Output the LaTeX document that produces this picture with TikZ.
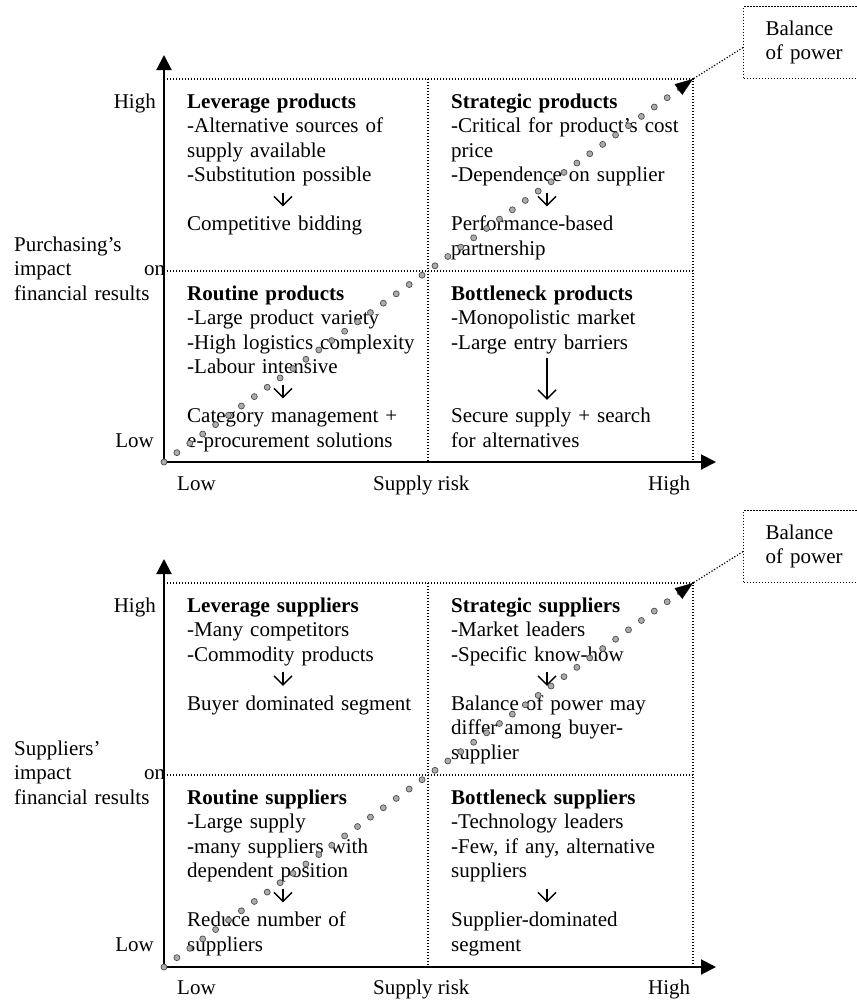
\documentclass[tikz,border=0pt]{standalone}
\usepackage{fontspec}
\setmainfont{Liberation Serif}
\usetikzlibrary{arrows.meta,calc}

\begin{document}
\begin{tikzpicture}[x=1pt,y=-1pt,
    font=\fontsize{21}{24.5}\selectfont,
    block/.style={anchor=base west, inner sep=0pt, text width=260pt, align=left},
    lbl/.style={inner sep=0pt},
    axisline/.style={line width=2pt, {Triangle[length=15pt,width=15pt]}-{Triangle[length=15pt,width=15pt]}},
    dotline/.style={line width=1.2pt, dash pattern=on 1.2pt off 1.8pt},
    powerdot/.style={fill=gray!65, draw=gray!60!black, line width=0.7pt},
    powertip/.style={-{Triangle[length=18pt,width=13pt]}},
    flowarrow/.style={line width=1.4pt, -{Straight Barb[length=9pt,width=18pt]}, shorten <=3.7pt, shorten >=6.8pt},
    bopbox/.style={draw, dotline, anchor=north west, minimum height=72pt, inner xsep=22pt, text width=110pt, align=left}]
\useasboundingbox (0,0) rectangle (857,1002);

% ---------- purchasing portfolio (top) ----------
\coordinate (o1) at (164,462);
\coordinate (ytop1) at (164,55);
\coordinate (xend1) at (716,462);
\coordinate (c1) at (693,79);

% Draw the quadrant lines
\draw[dotline] (164,79) -- (c1) -- (693,462);
\draw[dotline] (428,79) -- (428,462);
\draw[dotline] (164,271) -- (693,271);
% Draw the axes
\draw[axisline] (ytop1) -- (o1) -- (xend1);

% axis labels
\node at (14,251) [block, text width=151pt] (ylab1) {Purchasing’s\\impact\hfill on\\financial results};
\node at (156,108) [lbl, anchor=base east] (high1) {High};
\node at (154,447) [lbl, anchor=base east] (low1) {Low};
\node at (177,490) [lbl, anchor=base west] (xlow1) {Low};
\node at (373,490) [lbl, anchor=base west] (risk1) {Supply risk};
\node at (648,490) [lbl, anchor=base west] (xhigh1) {High};

% the four quadrants
\node at (187,108) [block] (levP) {\textbf{Leverage products}\\-Alternative sources of\\supply available\\-Substitution possible\strut};
\node at (187,230.5) [block] (levPres) {\strut Competitive bidding};
\draw[flowarrow] ([xshift=96pt]levP.south west) -- ([xshift=96pt]levPres.north west);

\node at (451,108) [block] (strP) {\textbf{Strategic products}\\-Critical for product’s cost\\price\\-Dependence on supplier\strut};
\node at (451,230.5) [block] (strPres) {\strut Performance-based\\partnership};
\draw[flowarrow] ([xshift=96pt]strP.south west) -- ([xshift=96pt]strPres.north west);

\node at (187,300) [block] (rouP) {\textbf{Routine products}\\-Large product variety\\-High logistics complexity\\-Labour intensive\strut};
\node at (187,422.5) [block] (rouPres) {\strut Category management +\\e-procurement solutions};
\draw[flowarrow] ([xshift=96pt]rouP.south west) -- ([xshift=96pt]rouPres.north west);

\node at (451,300) [block] (botP) {\textbf{Bottleneck products}\\-Monopolistic market\\-Large entry barriers\strut};
\node at (451,422.5) [block] (botPres) {\strut Secure supply + search\\for alternatives};
\draw[flowarrow, shorten <=1.7pt, shorten >=5.4pt] ([xshift=96pt]botP.south west) -- ([xshift=96pt]botPres.north west);

% balance of power diagonal
\foreach \k in {0,...,40} {
    \filldraw[powerdot] ($(o1)!\k/41!(c1)$) circle (3pt);
}
\draw[powertip] ($(c1)!18pt!(o1)$) -- (c1);
\node at (743,6) [bopbox] (bop1) {Balance\\of power};
\draw[dotline] ([yshift=-5pt]bop1.west) -- (c1);

% ---------- supplier portfolio (bottom) ----------
\coordinate (o2) at (164,967);
\coordinate (ytop2) at (164,559);
\coordinate (xend2) at (716,967);
\coordinate (c2) at (693,583);

% Draw the quadrant lines
\draw[dotline] (164,583) -- (c2) -- (693,967);
\draw[dotline] (428,583) -- (428,967);
\draw[dotline] (164,775) -- (693,775);
% Draw the axes
\draw[axisline] (ytop2) -- (o2) -- (xend2);

% axis labels
\node at (14,755) [block, text width=151pt] (ylab2) {Suppliers’\\impact\hfill on\\financial results};
\node at (156,612) [lbl, anchor=base east] (high2) {High};
\node at (154,951) [lbl, anchor=base east] (low2) {Low};
\node at (177,994) [lbl, anchor=base west] (xlow2) {Low};
\node at (373,994) [lbl, anchor=base west] (risk2) {Supply risk};
\node at (648,994) [lbl, anchor=base west] (xhigh2) {High};

% the four quadrants
\node at (187,612) [block] (levS) {\textbf{Leverage suppliers}\\-Many competitors\\-Commodity products\strut};
\node at (187,710) [block] (levSres) {\strut Buyer dominated segment};
\draw[flowarrow] ([xshift=96pt]levS.south west) -- ([xshift=96pt]levSres.north west);

\node at (451,612) [block] (strS) {\textbf{Strategic suppliers}\\-Market leaders\\-Specific know-how\strut};
\node at (451,710) [block] (strSres) {\strut Balance of power may\\differ among buyer-\\supplier};
\draw[flowarrow] ([xshift=96pt]strS.south west) -- ([xshift=96pt]strSres.north west);

\node at (187,804) [block] (rouS) {\textbf{Routine suppliers}\\-Large supply\\-many suppliers with\\dependent position\strut};
\node at (187,926.5) [block] (rouSres) {\strut Reduce number of\\suppliers};
\draw[flowarrow] ([xshift=96pt]rouS.south west) -- ([xshift=96pt]rouSres.north west);

\node at (451,804) [block] (botS) {\textbf{Bottleneck suppliers}\\-Technology leaders\\-Few, if any, alternative\\suppliers\strut};
\node at (451,926.5) [block] (botSres) {\strut Supplier-dominated\\segment};
\draw[flowarrow] ([xshift=96pt]botS.south west) -- ([xshift=96pt]botSres.north west);

% balance of power diagonal
\foreach \k in {0,...,40} {
    \filldraw[powerdot] ($(o2)!\k/41!(c2)$) circle (3pt);
}
\draw[powertip] ($(c2)!18pt!(o2)$) -- (c2);
\node at (743,510) [bopbox] (bop2) {Balance\\of power};
\draw[dotline] ([yshift=-5pt]bop2.west) -- (c2);
\end{tikzpicture}
\end{document}
